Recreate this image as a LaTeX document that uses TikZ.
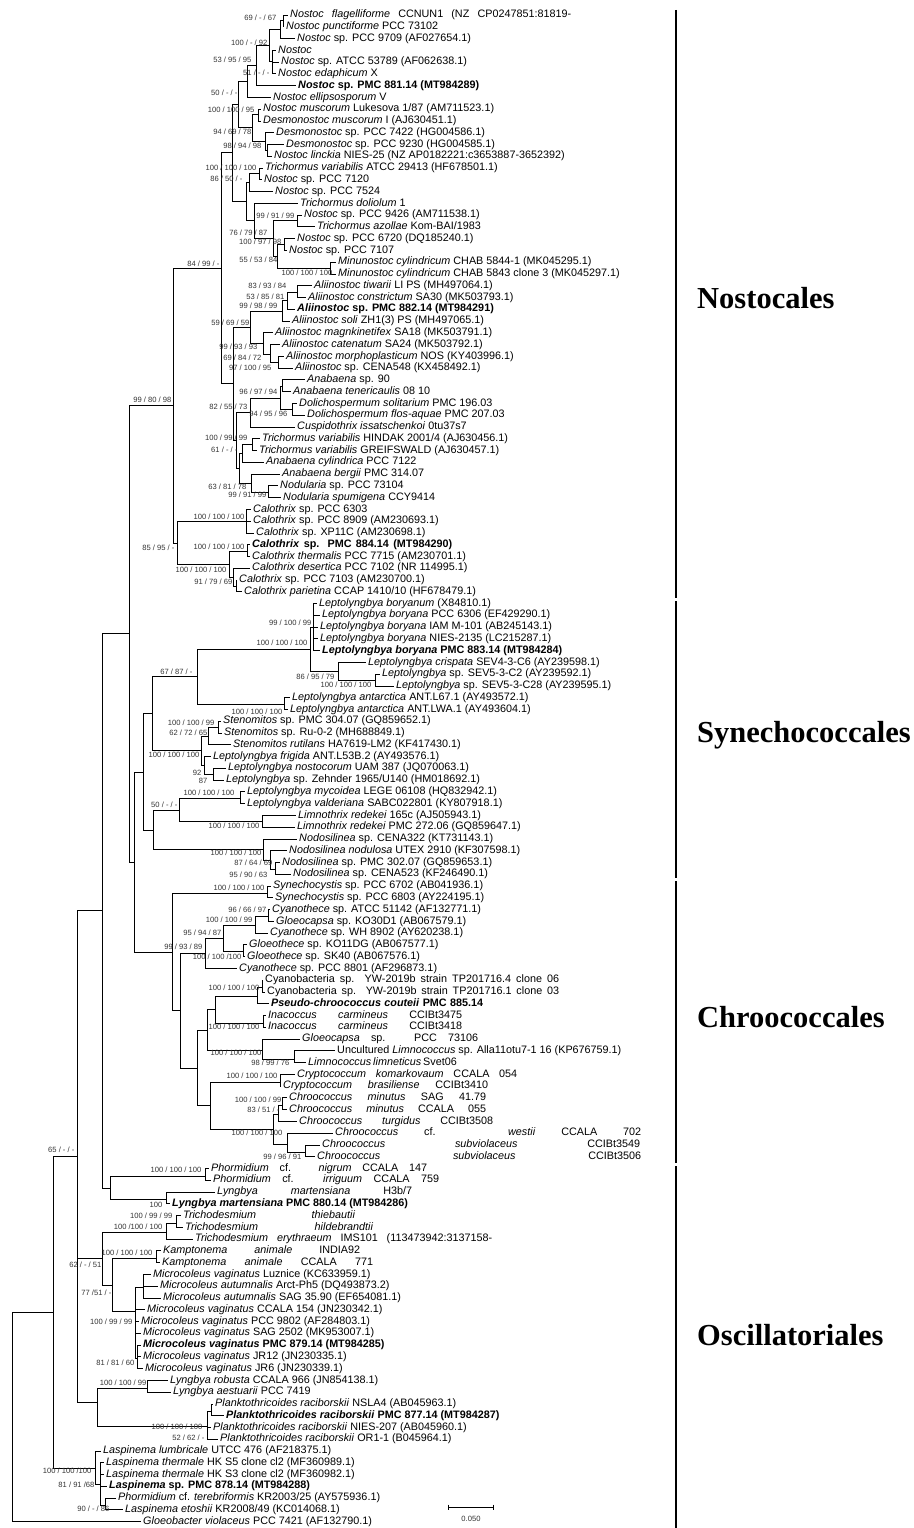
\documentclass[tikz,border=0pt]{standalone}
\usepackage{fontspec}
\setmainfont{Liberation Sans}
\newfontfamily\ordfont{Liberation Serif}
\usepackage{tikz}
\tikzset{
  branch/.style={line width=0.75pt,black},
  leaf/.style={anchor=west,inner xsep=2pt,inner ysep=0pt,text height=7.6pt,text depth=2.2pt,
    font=\fontsize{10.8}{12}\selectfont},
  boot/.style={anchor=east,inner sep=0.4pt,font=\fontsize{7.6}{8}\selectfont,text=black!80},
  ordbar/.style={line width=2.6pt,black},
  ordname/.style={anchor=west,inner sep=0pt,font=\ordfont\bfseries\fontsize{30.5}{34}\selectfont}
}
\newcommand{\taxon}[3]{\node[leaf] (l#1) at ({#2-2},{15+(#1-1)*11.77}) {#3};}
\newcommand{\clade}[4]{\coordinate (#1) at (#2,#3);
  \foreach \ch in {#4} {\draw[branch] (#1) |- (\ch);}}
\newcounter{bsn}
\newcommand{\support}[3]{\stepcounter{bsn}\node[boot] (b\thebsn) at (#1,#2) {#3};}

\begin{document}
\begin{tikzpicture}[x=1pt,y=-1pt]
\useasboundingbox (0,0) rectangle (913,1528);

% Nostocales
\taxon{1}{290}{\makebox[281pt][s]{\textit{Nostoc flagelliforme} CCNUN1 (NZ CP0247851:81819-}}
\taxon{2}{286}{\textit{Nostoc punctiforme} PCC 73102}
\taxon{3}{297}{\textit{Nostoc} sp. PCC 9709 (AF027654.1)}
\taxon{4}{278}{\textit{Nostoc}}
\taxon{5}{281}{\textit{Nostoc} sp. ATCC 53789 (AF062638.1)}
\taxon{6}{278}{\textit{Nostoc edaphicum} X}
\taxon{7}{298}{\bfseries\textit{Nostoc} sp. PMC 881.14 (MT984289)}
\taxon{8}{273}{\textit{Nostoc ellipsosporum} V}
\taxon{9}{263}{\textit{Nostoc muscorum} Lukesova 1/87 (AM711523.1)}
\taxon{10}{263}{\textit{Desmonostoc muscorum} I (AJ630451.1)}
\taxon{11}{276}{\textit{Desmonostoc} sp. PCC 7422 (HG004586.1)}
\taxon{12}{286}{\textit{Desmonostoc} sp. PCC 9230 (HG004585.1)}
\taxon{13}{274}{\textit{Nostoc linckia} NIES-25 (NZ AP0182221:c3653887-3652392)}
\taxon{14}{265}{\textit{Trichormus variabilis} ATCC 29413 (HF678501.1)}
\taxon{15}{264}{\textit{Nostoc} sp. PCC 7120}
\taxon{16}{275}{\textit{Nostoc} sp. PCC 7524}
\taxon{17}{300}{\textit{Trichormus doliolum} 1}
\taxon{18}{304}{\textit{Nostoc} sp. PCC 9426 (AM711538.1)}
\taxon{19}{317}{\textit{Trichormus azollae} Kom-BAI/1983}
\taxon{20}{297}{\textit{Nostoc} sp. PCC 6720 (DQ185240.1)}
\taxon{21}{289}{\textit{Nostoc} sp. PCC 7107}
\taxon{22}{338}{\textit{Minunostoc cylindricum} CHAB 5844-1 (MK045295.1)}
\taxon{23}{338}{\textit{Minunostoc cylindricum} CHAB 5843 clone 3 (MK045297.1)}
\taxon{24}{314}{\textit{Aliinostoc tiwarii} LI PS (MH497064.1)}
\taxon{25}{308}{\textit{Aliinostoc constrictum} SA30 (MK503793.1)}
\taxon{26}{297}{\bfseries\textit{Aliinostoc} sp. PMC 882.14 (MT984291)}
\taxon{27}{292}{\textit{Aliinostoc soli} ZH1(3) PS (MH497065.1)}
\taxon{28}{275}{\textit{Aliinostoc magnkinetifex} SA18 (MK503791.1)}
\taxon{29}{282}{\textit{Aliinostoc catenatum} SA24 (MK503792.1)}
\taxon{30}{286}{\textit{Aliinostoc morphoplasticum} NOS (KY403996.1)}
\taxon{31}{295}{\textit{Aliinostoc} sp. CENA548 (KX458492.1)}
\taxon{32}{307}{\textit{Anabaena} sp. 90}
\taxon{33}{293}{\textit{Anabaena tenericaulis} 08 10}
\taxon{34}{299}{\textit{Dolichospermum solitarium} PMC 196.03}
\taxon{35}{307}{\textit{Dolichospermum flos-aquae} PMC 207.03}
\taxon{36}{297}{\textit{Cuspidothrix issatschenkoi} 0tu37s7}
\taxon{37}{262}{\textit{Trichormus variabilis} HINDAK 2001/4 (AJ630456.1)}
\taxon{38}{259}{\textit{Trichormus variabilis} GREIFSWALD (AJ630457.1)}
\taxon{39}{266}{\textit{Anabaena cylindrica} PCC 7122}
\taxon{40}{282}{\textit{Anabaena bergii} PMC 314.07}
\taxon{41}{280}{\textit{Nodularia} sp. PCC 73104}
\taxon{42}{283}{\textit{Nodularia spumigena} CCY9414}
\taxon{43}{253}{\textit{Calothrix} sp. PCC 6303}
\taxon{44}{253}{\textit{Calothrix} sp. PCC 8909 (AM230693.1)}
\taxon{45}{256}{\textit{Calothrix} sp. XP11C (AM230698.1)}
\taxon{46}{252}{\makebox[200pt][s]{\bfseries\textit{Calothrix} sp. PMC 884.14 (MT984290)}}
\taxon{47}{252}{\textit{Calothrix thermalis} PCC 7715 (AM230701.1)}
\taxon{48}{252}{\textit{Calothrix desertica} PCC 7102 (NR 114995.1)}
\taxon{49}{239}{\textit{Calothrix} sp. PCC 7103 (AM230700.1)}
\taxon{50}{244}{\textit{Calothrix parietina} CCAP 1410/10 (HF678479.1)}
% Synechococcales
\taxon{51}{319}{\textit{Leptolyngbya boryanum} (X84810.1)}
\taxon{52}{322}{\textit{Leptolyngbya boryana} PCC 6306 (EF429290.1)}
\taxon{53}{320}{\textit{Leptolyngbya boryana} IAM M-101 (AB245143.1)}
\taxon{54}{320}{\textit{Leptolyngbya boryana} NIES-2135 (LC215287.1)}
\taxon{55}{322}{\bfseries\textit{Leptolyngbya boryana} PMC 883.14 (MT984284)}
\taxon{56}{368}{\textit{Leptolyngbya crispata} SEV4-3-C6 (AY239598.1)}
\taxon{57}{382}{\textit{Leptolyngbya} sp. SEV5-3-C2 (AY239592.1)}
\taxon{58}{396}{\textit{Leptolyngbya} sp. SEV5-3-C28 (AY239595.1)}
\taxon{59}{292}{\textit{Leptolyngbya antarctica} ANT.L67.1 (AY493572.1)}
\taxon{60}{290}{\textit{Leptolyngbya antarctica} ANT.LWA.1 (AY493604.1)}
\taxon{61}{223}{\textit{Stenomitos} sp. PMC 304.07 (GQ859652.1)}
\taxon{62}{224}{\textit{Stenomitos} sp. Ru-0-2 (MH688849.1)}
\taxon{63}{233}{\textit{Stenomitos rutilans} HA7619-LM2 (KF417430.1)}
\taxon{64}{213}{\textit{Leptolyngbya frigida} ANT.L53B.2 (AY493576.1)}
\taxon{65}{228}{\textit{Leptolyngbya nostocorum} UAM 387 (JQ070063.1)}
\taxon{66}{226}{\textit{Leptolyngbya} sp. Zehnder 1965/U140 (HM018692.1)}
\taxon{67}{247}{\textit{Leptolyngbya mycoidea} LEGE 06108 (HQ832942.1)}
\taxon{68}{247}{\textit{Leptolyngbya valderiana} SABC022801 (KY807918.1)}
\taxon{69}{298}{\textit{Limnothrix redekei} 165c (AJ505943.1)}
\taxon{70}{297}{\textit{Limnothrix redekei} PMC 272.06 (GQ859647.1)}
\taxon{71}{299}{\textit{Nodosilinea} sp. CENA322 (KT731143.1)}
\taxon{72}{289}{\textit{Nodosilinea nodulosa} UTEX 2910 (KF307598.1)}
\taxon{73}{282}{\textit{Nodosilinea} sp. PMC 302.07 (GQ859653.1)}
\taxon{74}{293}{\textit{Nodosilinea} sp. CENA523 (KF246490.1)}
% Chroococcales
\taxon{75}{273}{\textit{Synechocystis} sp. PCC 6702 (AB041936.1)}
\taxon{76}{275}{\textit{Synechocystis} sp. PCC 6803 (AY224195.1)}
\taxon{77}{272}{\textit{Cyanothece} sp. ATCC 51142 (AF132771.1)}
\taxon{78}{276}{\textit{Gloeocapsa} sp. KO30D1 (AB067579.1)}
\taxon{79}{270}{\textit{Cyanothece} sp. WH 8902 (AY620238.1)}
\taxon{80}{249}{\textit{Gloeothece} sp. KO11DG (AB067577.1)}
\taxon{81}{247}{\textit{Gloeothece} sp. SK40 (AB067576.1)}
\taxon{82}{239}{\textit{Cyanothece} sp. PCC 8801 (AF296873.1)}
\taxon{83}{265}{\makebox[294pt][s]{Cyanobacteria sp. YW-2019b strain TP201716.4 clone 06}}
\taxon{84}{267}{\makebox[292pt][s]{Cyanobacteria sp. YW-2019b strain TP201716.1 clone 03}}
\taxon{85}{271}{\makebox[212pt][s]{\bfseries\textit{Pseudo-chroococcus couteii} PMC 885.14}}
\taxon{86}{268}{\makebox[194pt][s]{\textit{Inacoccus carmineus} CCIBt3475}}
\taxon{87}{268}{\makebox[194pt][s]{\textit{Inacoccus carmineus} CCIBt3418}}
\taxon{88}{302}{\makebox[176pt][s]{\textit{Gloeocapsa} sp. PCC 73106}}
\taxon{89}{337}{Uncultured \textit{Limnococcus} sp. Alla11otu7-1 16 (KP676759.1)}
\taxon{90}{308}{\makebox[129pt][s]{\textit{Limnococcus limneticus} Svet06}}
\taxon{91}{297}{\makebox[220pt][s]{\textit{Cryptococcum komarkovaum} CCALA 054}}
\taxon{92}{283}{\makebox[205pt][s]{\textit{Cryptococcum brasiliense} CCIBt3410}}
\taxon{93}{289}{\makebox[197pt][s]{\textit{Chroococcus minutus} SAG 41.79}}
\taxon{94}{289}{\makebox[197pt][s]{\textit{Chroococcus minutus} CCALA 055}}
\taxon{95}{299}{\makebox[194pt][s]{\textit{Chroococcus turgidus} CCIBt3508}}
\taxon{96}{335}{\makebox[306pt][s]{\textit{Chroococcus} cf. \textit{westii} CCALA 702}}
\taxon{97}{322}{\makebox[318pt][s]{\textit{Chroococcus subviolaceus} CCIBt3549}}
\taxon{98}{317}{\makebox[324pt][s]{\textit{Chroococcus subviolaceus} CCIBt3506}}
% Oscillatoriales
\taxon{99}{211}{\makebox[216pt][s]{\textit{Phormidium} cf. \textit{nigrum} CCALA 147}}
\taxon{100}{213}{\makebox[226pt][s]{\textit{Phormidium} cf. \textit{irriguum} CCALA 759}}
\taxon{101}{217}{\makebox[195pt][s]{\textit{Lyngbya martensiana} H3b/7}}
\taxon{102}{172}{\bfseries\textit{Lyngbya martensiana} PMC 880.14 (MT984286)}
\taxon{103}{183}{\makebox[172pt][s]{\textit{Trichodesmium thiebautii}}}
\taxon{104}{185}{\makebox[188pt][s]{\textit{Trichodesmium hildebrandtii}}}
\taxon{105}{195}{\makebox[297pt][s]{\textit{Trichodesmium erythraeum} IMS101 (113473942:3137158-}}
\taxon{106}{163}{\makebox[197pt][s]{\textit{Kamptonema animale} INDIA92}}
\taxon{107}{162}{\makebox[211pt][s]{\textit{Kamptonema animale} CCALA 771}}
\taxon{108}{153}{\textit{Microcoleus vaginatus} Luznice (KC633959.1)}
\taxon{109}{160}{\textit{Microcoleus autumnalis} Arct-Ph5 (DQ493873.2)}
\taxon{110}{163}{\textit{Microcoleus autumnalis} SAG 35.90 (EF654081.1)}
\taxon{111}{147}{\textit{Microcoleus vaginatus} CCALA 154 (JN230342.1)}
\taxon{112}{141}{\textit{Microcoleus vaginatus} PCC 9802 (AF284803.1)}
\taxon{113}{143}{\textit{Microcoleus vaginatus} SAG 2502 (MK953007.1)}
\taxon{114}{143}{\bfseries\textit{Microcoleus vaginatus} PMC 879.14 (MT984285)}
\taxon{115}{143}{\textit{Microcoleus vaginatus} JR12 (JN230335.1)}
\taxon{116}{145}{\textit{Microcoleus vaginatus} JR6 (JN230339.1)}
\taxon{117}{170}{\textit{Lyngbya robusta} CCALA 966 (JN854138.1)}
\taxon{118}{173}{\textit{Lyngbya aestuarii} PCC 7419}
\taxon{119}{215}{\textit{Planktothricoides raciborskii} NSLA4 (AB045963.1)}
\taxon{120}{226}{\bfseries\textit{Planktothricoides raciborskii} PMC 877.14 (MT984287)}
\taxon{121}{213}{\textit{Planktothricoides raciborskii} NIES-207 (AB045960.1)}
\taxon{122}{220}{\textit{Planktothricoides raciborskii} OR1-1 (B045964.1)}
\taxon{123}{103}{\textit{Laspinema lumbricale} UTCC 476 (AF218375.1)}
\taxon{124}{106}{\textit{Laspinema thermale} HK S5 clone cl2 (MF360989.1)}
\taxon{125}{106}{\textit{Laspinema thermale} HK S3 clone cl2 (MF360982.1)}
\taxon{126}{109}{\bfseries\textit{Laspinema} sp. PMC 878.14 (MT984288)}
\taxon{127}{118}{\textit{Phormidium} cf. \textit{terebriformis} KR2003/25 (AY575936.1)}
\taxon{128}{125}{\textit{Laspinema etoshii} KR2008/49 (KC014068.1)}
\taxon{129}{143}{\textit{Gloeobacter violaceus} PCC 7421 (AF132790.1)}

% internal nodes, children first
\clade{k1x2}{283}{20.5}{l1,l2}
\clade{k1x3}{280}{29}{k1x2,l3}
\clade{k4x6}{272}{61.5}{l4,l5,l6}
\clade{k1x6}{269}{45}{k1x3,k4x6}
\clade{k1x7}{256}{65}{k1x6,l7}
\clade{k1x8}{247}{81}{k1x7,l8}
\clade{k9x10}{258}{114}{l9,l10}
\clade{k12x13}{267}{150}{l12,l13}
\clade{k11x13}{265}{141}{l11,k12x13}
\clade{k9x13}{252}{127.5}{k9x10,k11x13}
\clade{k1x13}{238}{104}{k1x8,k9x13}
\clade{k14x15}{259}{173.5}{l14,l15}
\clade{k14x16}{249}{182}{k14x15,l16}
\clade{k18x19}{297}{220.5}{l18,l19}
\clade{k20x21}{284}{244}{l20,l21}
\clade{k22x23}{330}{268}{l22,l23}
\clade{k20x23}{277}{256}{k20x21,k22x23}
\clade{k18x23}{273}{238}{k18x19,k20x23}
\clade{k17x23}{254}{220.5}{l17,k18x23}
\clade{k14x23}{246}{201}{k14x16,k17x23}
\clade{k1x23}{232}{152.5}{k1x13,k14x23}
\clade{k24x25}{297}{292}{l24,l25}
\clade{k24x26}{287}{300.5}{k24x25,l26}
\clade{k24x27}{282}{311}{k24x26,l27}
\clade{k30x31}{278}{362.5}{l30,l31}
\clade{k29x31}{270}{354}{l29,k30x31}
\clade{k28x31}{263}{343.5}{l28,k29x31}
\clade{k24x31}{250}{327}{k24x27,k28x31}
\clade{k32x33}{282}{386}{l32,l33}
\clade{k34x35}{292}{409.5}{l34,l35}
\clade{k32x35}{280}{398}{k32x33,k34x35}
\clade{k32x36}{250}{412.5}{k32x35,l36}
\clade{k37x38}{252}{444}{l37,l38}
\clade{k37x39}{242}{453}{k37x38,l39}
\clade{k41x42}{268}{492}{l41,l42}
\clade{k40x42}{251}{483}{l40,k41x42}
\clade{k37x42}{239}{468}{k37x39,k40x42}
\clade{k32x42}{236}{440}{k32x36,k37x42}
\clade{k24x42}{233}{383.5}{k24x31,k32x42}
\clade{k1x42}{221}{268}{k1x23,k24x42}
\clade{k43x45}{246}{521.5}{l43,l44,l45}
\clade{k46x47}{247}{551}{l46,l47}
\clade{k49x50}{236}{586}{l49,l50}
\clade{k48x50}{233}{577}{l48,k49x50}
\clade{k46x50}{229}{564}{k46x47,k48x50}
\clade{k43x50}{177}{543}{k43x45,k46x50}
\clade{k1x50}{173}{405.5}{k1x42,k43x50}
\clade{k51x55}{313}{627.5}{l51,l52,l53,l54,l55}
\clade{k57x58}{375}{680}{l57,l58}
\clade{k56x58}{338}{671}{l56,k57x58}
\clade{k51x58}{310}{649}{k51x55,k56x58}
\clade{k59x60}{284}{704}{l59,l60}
\clade{k51x60}{197}{676.5}{k51x58,k59x60}
\clade{k61x62}{218}{727.5}{l61,l62}
\clade{k61x63}{208}{736}{k61x62,l63}
\clade{k65x66}{213}{774}{l65,l66}
\clade{k64x66}{204}{765}{l64,k65x66}
\clade{k61x66}{201}{750.5}{k61x63,k64x66}
\clade{k51x66}{152}{713.5}{k51x60,k61x66}
\clade{k67x68}{240}{798.5}{l67,l68}
\clade{k69x70}{262}{821.5}{l69,l70}
\clade{k67x70}{179}{810}{k67x68,k69x70}
\clade{k73x74}{275}{869}{l73,l74}
\clade{k72x74}{270}{860}{l72,k73x74}
\clade{k71x74}{263}{849.5}{l71,k72x74}
\clade{k67x74}{153}{830}{k67x70,k71x74}
\clade{k51x74}{143}{772}{k51x66,k67x74}
\clade{k75x76}{267}{893.5}{l75,l76}
\clade{k77x78}{268}{916}{l77,l78}
\clade{k77x79}{255}{925}{k77x78,l79}
\clade{k80x81}{243}{951.5}{l80,l81}
\clade{k77x81}{223}{938}{k77x79,k80x81}
\clade{k77x82}{205}{953.5}{k77x81,l82}
\clade{k83x84}{262}{987.5}{l83,l84}
\clade{k83x85}{257}{996}{k83x84,l85}
\clade{k86x87}{263}{1023}{l86,l87}
\clade{k83x87}{215}{1009.5}{k83x85,k86x87}
\clade{k89x90}{294}{1059}{l89,l90}
\clade{k88x90}{262}{1050}{l88,k89x90}
\clade{k83x90}{207}{1030}{k83x87,k88x90}
\clade{k91x92}{280}{1082}{l91,l92}
\clade{k93x94}{282}{1105}{l93,l94}
\clade{k93x95}{278}{1114}{k93x94,l95}
\clade{k97x98}{305}{1152.5}{l97,l98}
\clade{k96x98}{287}{1144}{l96,k97x98}
\clade{k93x98}{273}{1129}{k93x95,k96x98}
\clade{k91x98}{210}{1105.5}{k91x92,k93x98}
\clade{k83x98}{197}{1068}{k83x90,k91x98}
\clade{k77x98}{180}{1010.75}{k77x82,k83x98}
\clade{k75x98}{172}{952}{k75x76,k77x98}
\clade{k51x98}{134}{862}{k51x74,k75x98}
\clade{k1x98}{129}{633.75}{k1x50,k51x98}
\clade{k99x100}{205}{1176}{l99,l100}
\clade{k101x102}{166}{1199.5}{l101,l102}
\clade{k99x102}{110}{1188}{k99x100,k101x102}
\clade{k1x102}{102}{910.5}{k1x98,k99x102}
\clade{k103x104}{176}{1223}{l103,l104}
\clade{k103x105}{166}{1232}{k103x104,l105}
\clade{k106x107}{156}{1258.5}{l106,l107}
\clade{k108x110}{143}{1287.5}{l108,l109,l110}
\clade{k114x116}{137}{1358}{l114,l115,l116}
\clade{k108x116}{135}{1311}{k108x110,l111,l112,l113,k114x116}
\clade{k106x116}{112}{1285}{k106x107,k108x116}
\clade{k103x116}{102}{1258.5}{k103x105,k106x116}
\clade{k117x118}{147}{1388}{l117,l118}
\clade{k119x120}{211}{1411.5}{l119,l120}
\clade{k119x122}{207}{1426}{k119x120,l121,l122}
\clade{k117x122}{97}{1402}{k117x118,k119x122}
\clade{k1x122}{77}{1156}{k1x102,k103x116,k117x122}
\clade{k127x128}{105}{1505}{l127,l128}
\clade{k124x128}{100}{1484}{l124,l125,l126,k127x128}
\clade{k123x128}{95}{1468.5}{l123,k124x128}
\clade{k1x128}{53}{1312}{k1x122,k123x128}
\clade{root}{12}{1417}{k1x128,l129}

% support values
\support{277}{18}{69 / - / 67}
\support{268}{43}{100 / - / 92}
\support{252}{60}{53 / 95 / 95}
\support{270}{73}{51 / - / -}
\support{238}{93}{50 / - / -}
\support{255}{110}{100 / 100 / 95}
\support{252}{132}{94 / 69 / 78}
\support{262}{146}{98 / 94 / 98}
\support{257}{168}{100 / 100 / 100}
\support{243}{179}{86 / 50 / -}
\support{295}{216}{99 / 91 / 99}
\support{268}{233}{76 / 79 / 87}
\support{282}{242}{100 / 97 / 98}
\support{278}{260}{55 / 53 / 84}
\support{220}{264}{84 / 99 / -}
\support{333}{273}{100 / 100 / 100}
\support{287}{286}{83 / 93 / 84}
\support{285}{297}{53 / 85 / 81}
\support{278}{306}{99 / 98 / 99}
\support{250}{323}{59 / 69 / 59}
\support{258}{347}{99 / 93 / 93}
\support{262}{358}{69 / 84 / 72}
\support{272}{368}{97 / 100 / 95}
\support{278}{392}{96 / 97 / 94}
\support{172}{400}{99 / 80 / 98}
\support{248}{407}{82 / 55 / 73}
\support{288}{414}{94 / 95 / 96}
\support{248}{438}{100 / 99 / 99}
\support{238}{450}{61 / - / -}
\support{247}{487}{63 / 81 / 78}
\support{267}{495}{99 / 91 / 99}
\support{245}{517}{100 / 100 / 100}
\support{245}{547}{100 / 100 / 100}
\support{175}{548}{85 / 95 / -}
\support{227}{570}{100 / 100 / 100}
\support{233}{582}{91 / 79 / 69}
\support{312}{623}{99 / 100 / 99}
\support{308}{643}{100 / 100 / 100}
\support{193}{672}{67 / 87 / -}
\support{335}{677}{86 / 95 / 79}
\support{372}{685}{100 / 100 / 100}
\support{283}{712}{100 / 100 / 100}
\support{215}{723}{100 / 100 / 99}
\support{208}{733}{62 / 72 / 65}
\support{200}{755}{100 / 100 / 100}
\support{202}{773}{92}
\support{208}{781}{87}
\support{235}{793}{100 / 100 / 100}
\support{178}{805}{50 / - / -}
\support{260}{826}{100 / 100 / 100}
\support{262}{853}{100 / 100 / 100}
\support{273}{863}{87 / 64 / 69}
\support{268}{875}{95 / 90 / 63}
\support{265}{888}{100 / 100 / 100}
\support{267}{910}{96 / 66 / 97}
\support{253}{920}{100 / 100 / 99}
\support{222}{933}{95 / 94 / 87}
\support{203}{947}{99 / 93 / 89}
\support{242}{957}{100 / 100 /100}
\support{260}{988}{100 / 100 / 100}
\support{260}{1027}{100 / 100 / 100}
\support{262}{1053}{100 / 100 / 100}
\support{290}{1063}{98 / 99 / 76}
\support{278}{1076}{100 / 100 / 100}
\support{282}{1100}{100 / 100 / 99}
\support{280}{1110}{83 / 51 / -}
\support{283}{1133}{100 / 100 / 100}
\support{302}{1157}{99 / 96 / 91}
\support{75}{1150}{65 / - / -}
\support{202}{1170}{100 / 100 / 100}
\support{163}{1205}{100}
\support{173}{1216}{100 / 99 / 99}
\support{163}{1227}{100 /100 / 100}
\support{153}{1253}{100 / 100 / 100}
\support{102}{1265}{62 / - / 51}
\support{112}{1293}{77 /51 / -}
\support{133}{1322}{100 / 99 / 99}
\support{135}{1363}{81 / 81 / 60}
\support{147}{1383}{100 / 100 / 99}
\support{203}{1427}{100 / 100 / 100}
\support{205}{1438}{52 / 62 / -}
\support{92}{1471}{100 / 100 /100}
\support{95}{1485}{81 / 91 /68}
\support{110}{1509}{90 / - / 86}

% order bars
\draw[ordbar] (676,10) -- (676,598);
\draw[ordbar] (676,601) -- (676,878);
\draw[ordbar] (676,881) -- (676,1163);
\draw[ordbar] (676,1166) -- (676,1528);
\node[ordname] (nost) at (697,298) {Nostocales};
\node[ordname] (syne) at (697,735) {Synechococcales};
\node[ordname] (chro) at (697,1017) {Chroococcales};
\node[ordname] (osci) at (697,1335) {Oscillatoriales};

% scale bar
\coordinate (sb1) at (448,1507);
\coordinate (sb2) at (493,1507);
\draw[branch] (sb1) -- (sb2);
\draw[branch] ([yshift=2.5pt]sb1) -- ([yshift=-2.5pt]sb1);
\draw[branch] ([yshift=2.5pt]sb2) -- ([yshift=-2.5pt]sb2);
\node[boot,anchor=center] (sbl) at (471,1519) {0.050};
\end{tikzpicture}
\end{document}
